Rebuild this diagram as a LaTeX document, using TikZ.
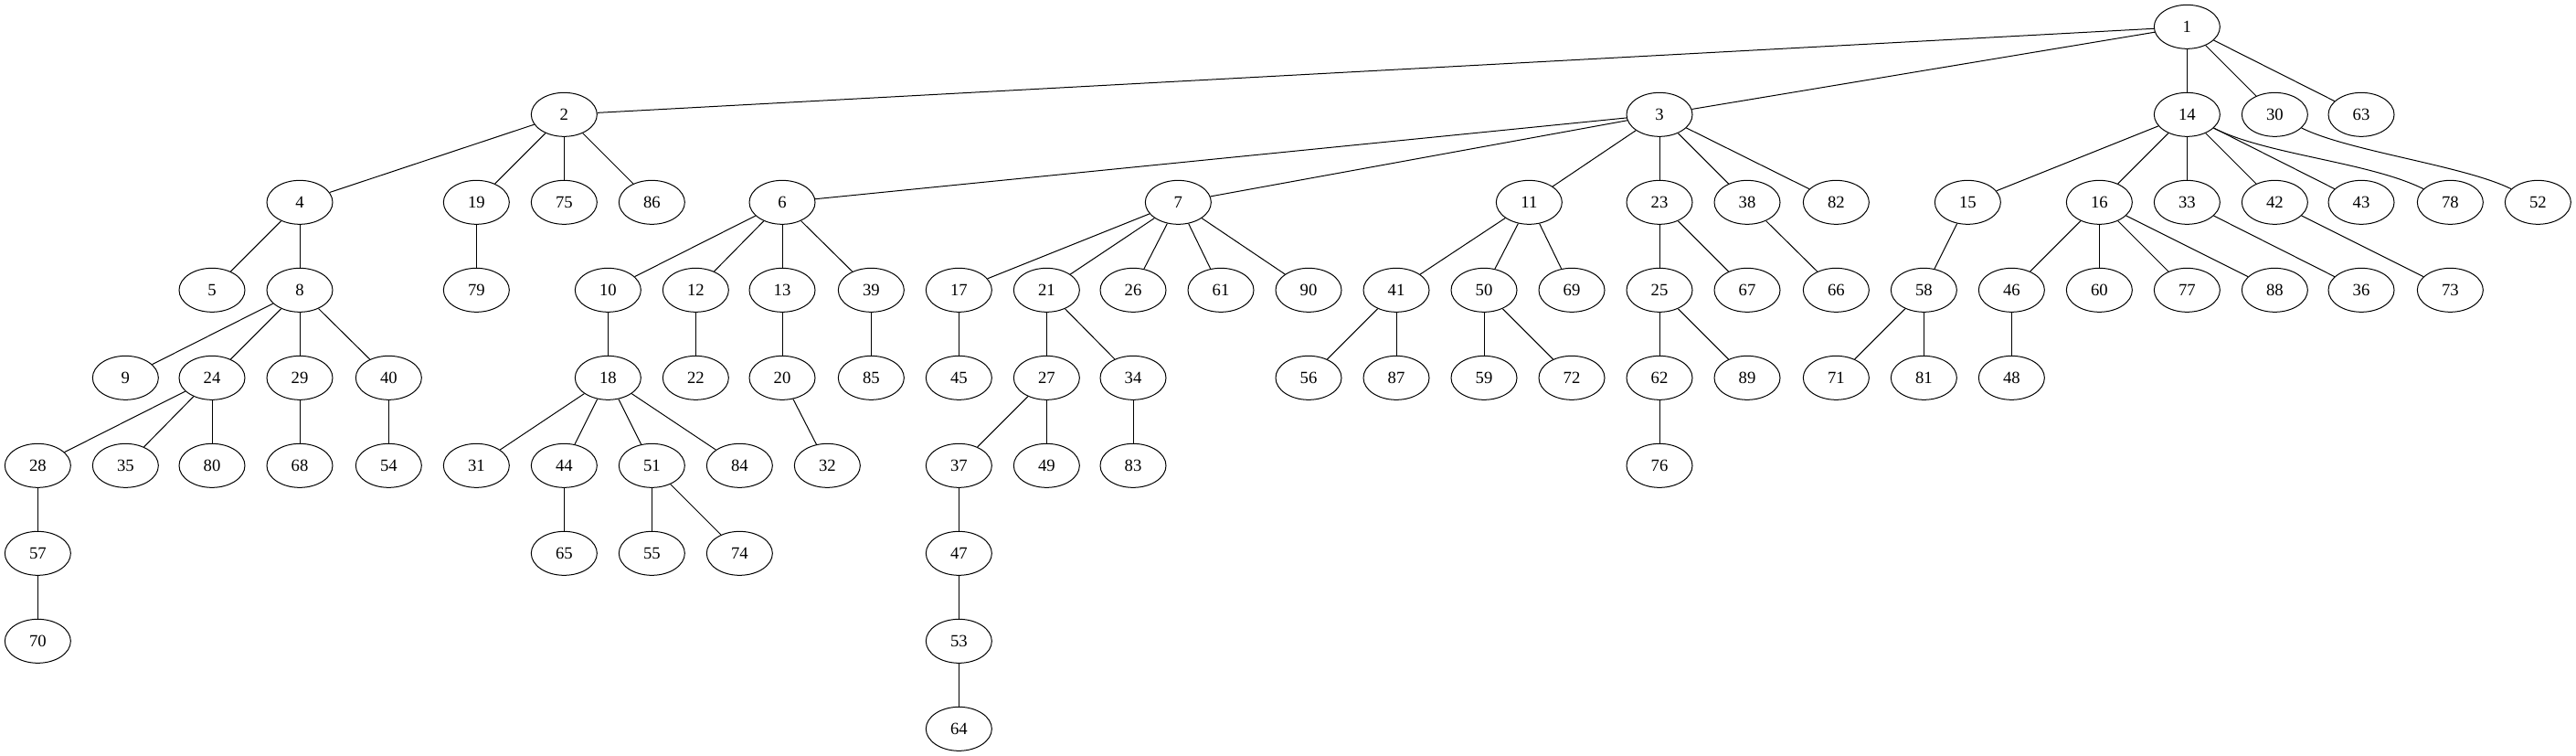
\documentclass[tikz,border=0pt]{standalone}
\usepackage{fontspec}
\setmainfont{Liberation Serif}
\usetikzlibrary{shapes.geometric}

\begin{document}
\begin{tikzpicture}[x=1pt, y=1pt, line width=.75pt, main node/.style={ellipse, draw, minimum width=54pt, minimum height=36pt, inner sep=0pt, font=\fontsize{14}{16}\selectfont}]
\useasboundingbox (0,0) rectangle (2114.25,-620.25);
\node[main node] (1) at (1795,-22) {1};
\foreach \s/\x in {2/463, 3/1362, 14/1795, 30/1867, 63/1938}{
    \node[main node] (\s) at (\x,-94) {\s};}
\foreach \s/\x in {4/246, 19/391, 75/463, 86/535, 6/642, 7/967, 11/1255, 23/1362, 38/1434, 82/1507, 15/1615, 16/1723, 33/1795, 42/1867, 43/1938, 78/2011, 52/2083}{
    \node[main node] (\s) at (\x,-166) {\s};}
\foreach \s/\x in {5/174, 8/246, 79/391, 10/499, 12/571, 13/642, 39/715, 17/787, 21/859, 26/930, 61/1002, 90/1074, 41/1146, 50/1218, 69/1290, 25/1362, 67/1434, 66/1507, 58/1579, 46/1651, 60/1723, 77/1795, 88/1867, 36/1938, 73/2011}{
    \node[main node] (\s) at (\x,-238) {\s};}
\foreach \s/\x in {9/103, 24/174, 29/246, 40/319, 18/499, 22/571, 20/642, 85/715, 45/787, 27/859, 34/930, 56/1074, 87/1146, 59/1218, 72/1290, 62/1362, 89/1434, 71/1507, 81/1579, 48/1651}{
    \node[main node] (\s) at (\x,-310) {\s};}
\foreach \s/\x in {28/31, 35/103, 80/174, 68/246, 54/319, 31/391, 44/463, 51/535, 84/607, 32/679, 37/787, 49/859, 83/930, 76/1362}{
    \node[main node] (\s) at (\x,-382) {\s};}
\foreach \s/\x in {57/31, 65/463, 55/535, 74/607, 47/787}{
    \node[main node] (\s) at (\x,-454) {\s};}
\foreach \s/\x in {70/31, 53/787}{
    \node[main node] (\s) at (\x,-526) {\s};}
\node[main node] (64) at (787,-598) {64};
% edges
\foreach \s/\t in {1/2, 1/3, 1/14, 1/30, 1/63, 2/4, 2/19, 2/75, 2/86, 3/6, 3/7, 3/11, 3/23, 3/38, 3/82,
    14/15, 14/16, 14/33, 14/42, 14/43, 4/5, 4/8, 19/79, 6/10, 6/12, 6/13, 6/39,
    7/17, 7/21, 7/26, 7/61, 7/90, 11/41, 11/50, 11/69, 23/25, 23/67, 38/66, 15/58,
    16/46, 16/60, 16/77, 16/88, 33/36, 42/73, 8/9, 8/24, 8/29, 8/40, 10/18, 12/22,
    13/20, 39/85, 17/45, 21/27, 21/34, 41/56, 41/87, 50/59, 50/72, 25/62, 25/89,
    58/71, 58/81, 46/48, 24/28, 24/35, 24/80, 29/68, 40/54, 18/31, 18/44, 18/51,
    18/84, 20/32, 27/37, 27/49, 34/83, 62/76, 28/57, 44/65, 51/55, 51/74, 37/47,
    57/70, 47/53, 53/64}{
    \draw (\s) -- (\t);}
\draw (14) .. controls +(65,-33) and +(-66,33) .. (78);
\draw (30) .. controls +(60,-30) and +(-60,30) .. (52);
\end{tikzpicture}
\end{document}
